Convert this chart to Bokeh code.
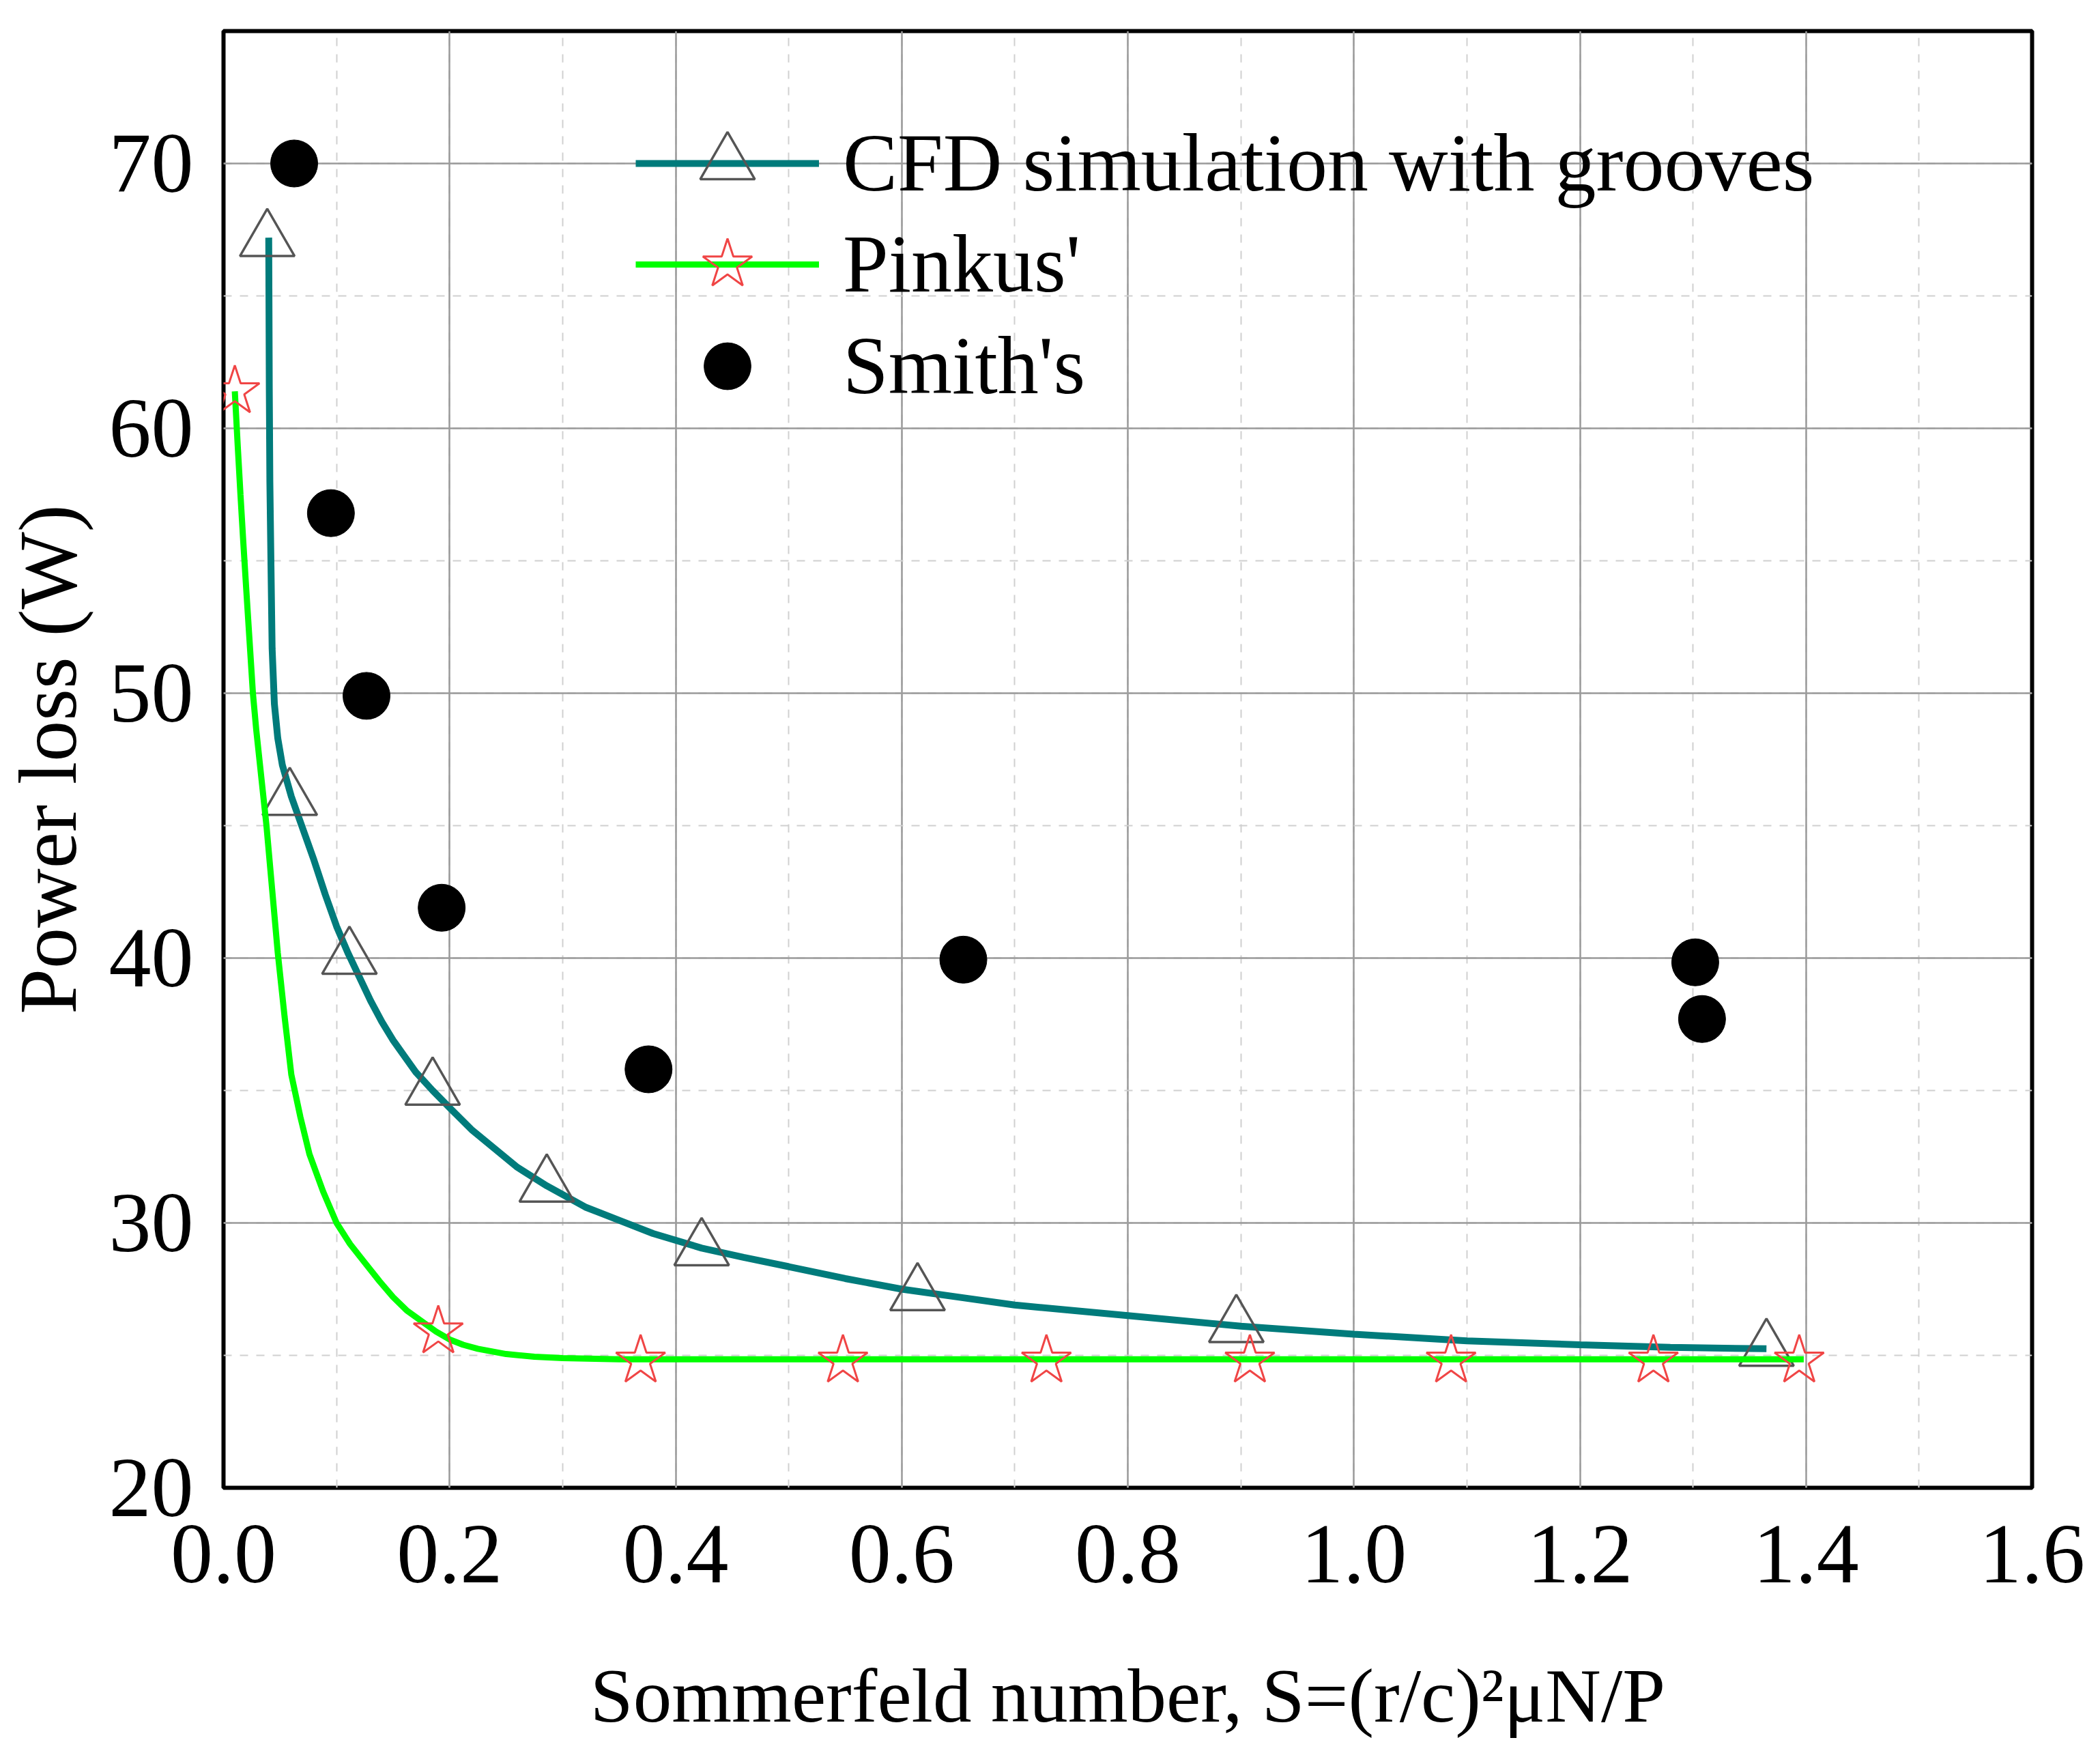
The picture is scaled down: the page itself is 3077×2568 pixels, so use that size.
import numpy as np

from bokeh.plotting import figure
from bokeh.models import Range1d, SingleIntervalTicker, PrintfTickFormatter, Legend, LegendItem
from bokeh.embed import file_html
from bokeh.resources import INLINE

# --- data ---
# CFD simulation with grooves: fitted curve + simulated points
cfd_line_x = [0.040, 0.0402, 0.0405, 0.041, 0.042, 0.043, 0.045, 0.048, 0.052, 0.056, 0.060,
              0.065, 0.070, 0.080, 0.090, 0.100, 0.110, 0.120, 0.130, 0.140, 0.150, 0.160,
              0.170, 0.185, 0.200, 0.220, 0.240, 0.260, 0.286, 0.320, 0.350, 0.380, 0.423,
              0.460, 0.500, 0.550, 0.600, 0.650, 0.700, 0.800, 0.900, 1.000, 1.100, 1.200,
              1.280, 1.365]
cfd_line_y = [67.2, 65.0, 61.5, 58.0, 54.8, 51.7, 49.6, 48.3, 47.3, 46.7, 46.1,
              45.5, 44.9, 43.7, 42.4, 41.2, 40.2, 39.3, 38.4, 37.6, 36.9, 36.3,
              35.7, 35.0, 34.35, 33.5, 32.8, 32.1, 31.4, 30.6, 30.1, 29.6, 29.05,
              28.7, 28.35, 27.9, 27.5, 27.2, 26.9, 26.5, 26.1, 25.8, 25.55, 25.4,
              25.3, 25.25]
cfd_pts_x = [0.0387, 0.0586, 0.1114, 0.185, 0.286, 0.423, 0.614, 0.896, 1.365]
cfd_pts_y = [67.1, 46.0, 40.0, 35.06, 31.4, 29.0, 27.3, 26.1, 25.2]

# Pinkus' solution
pinkus_line_x = [0.010, 0.0125, 0.015, 0.0175, 0.020, 0.023, 0.026, 0.029, 0.032, 0.035, 0.038,
                 0.043, 0.048, 0.054, 0.060, 0.068, 0.076, 0.088, 0.100, 0.112, 0.125, 0.138,
                 0.150, 0.162, 0.175, 0.188, 0.200, 0.212, 0.225, 0.250, 0.275, 0.300, 0.350,
                 0.400, 0.600, 0.800, 1.000, 1.200, 1.398]
pinkus_line_y = [61.4, 59.4, 57.5, 55.7, 54.0, 52.0, 50.0, 48.6, 47.4, 46.2, 45.0,
                 42.6, 40.2, 37.8, 35.6, 34.0, 32.6, 31.2, 30.0, 29.2, 28.5, 27.8,
                 27.2, 26.7, 26.3, 25.9, 25.6, 25.4, 25.25, 25.05, 24.95, 24.9, 24.85,
                 24.85, 24.85, 24.85, 24.85, 24.85, 24.85]
pinkus_pts_x = [0.010, 0.190, 0.369, 0.548, 0.728, 0.908, 1.086, 1.265, 1.394]
pinkus_pts_y = [61.4, 25.9, 24.8, 24.8, 24.8, 24.8, 24.8, 24.8, 24.8]

# Smith's experiments
smith_x = [0.0625, 0.095, 0.1265, 0.193, 0.376, 0.6545, 1.302, 1.308]
smith_y = [70.0, 56.8, 49.9, 41.9, 35.8, 39.94, 39.84, 37.7]

FONT = "Liberation Serif"

p = figure(frame_width=2650, frame_height=2134,
           min_border_left=320, min_border_right=90, min_border_top=45, min_border_bottom=370,
           x_range=Range1d(0, 1.6), y_range=Range1d(20, 75),
           output_backend="svg", toolbar_location=None)

p.outline_line_color = "black"
p.outline_line_width = 6

p.xaxis.ticker = SingleIntervalTicker(interval=0.2, num_minor_ticks=2)
p.yaxis.ticker = SingleIntervalTicker(interval=10, num_minor_ticks=2)
p.xaxis.formatter = PrintfTickFormatter(format="%.1f")

p.xgrid.ticker = p.xaxis.ticker
p.ygrid.ticker = p.yaxis.ticker
p.grid.grid_line_color = "#9a9a9a"
p.grid.grid_line_width = 2.5
p.grid.minor_grid_line_color = "#d0d0d0"
p.grid.minor_grid_line_width = 2
p.grid.minor_grid_line_dash = "12 12"

p.axis.axis_line_color = None
p.axis.major_tick_line_color = None
p.axis.minor_tick_line_color = None
p.axis.major_tick_out = 0
p.axis.major_tick_in = 0
p.axis.major_label_text_font = FONT
p.axis.major_label_text_font_size = "124px"
p.axis.major_label_text_color = "black"
p.axis.axis_label_text_font = FONT
p.axis.axis_label_text_font_style = "normal"
p.axis.axis_label_text_color = "black"
p.xaxis.axis_label_text_font_size = "113px"
p.yaxis.axis_label_text_font_size = "120px"
p.xaxis.major_label_standoff = 52
p.yaxis.major_label_standoff = 40
p.xaxis.axis_label_standoff = 100
p.yaxis.axis_label_standoff = 20

p.xaxis.axis_label = "Sommerfeld number, S=(r/c)\u00b2\u03bcN/P"
p.yaxis.axis_label = "Power loss (W)"

cfd_line = p.line(cfd_line_x, cfd_line_y, line_color="#007b7b", line_width=10)
cfd_pts = p.scatter(cfd_pts_x, cfd_pts_y, marker="triangle", size=80,
                    fill_color=None, line_color="#555555", line_width=3.5)

pin_line = p.line(pinkus_line_x, pinkus_line_y, line_color="#00ff00", line_width=9)
pin_pts = p.scatter(pinkus_pts_x, pinkus_pts_y, marker="star", size=76,
                    fill_color=None, line_color="#f04545", line_width=3)

smith = p.scatter(smith_x, smith_y, marker="circle", size=69,
                  fill_color="black", line_color="black")

# legend markers are drawn at 0.4 * glyph box height, so each entry gets its
# own legend with a box tall enough to keep the plot's marker size
entries = [
    ("CFD simulation with grooves", [cfd_line, cfd_pts], 200, 1840),
    ("Pinkus'", [pin_line, pin_pts], 190, 1697),
    ("Smith's", [smith], 172, 1557),
]
for label, rends, box_h, bottom in entries:
    leg = Legend(items=[LegendItem(label=label, renderers=rends)], location=(604, bottom))
    leg.background_fill_alpha = 0
    leg.border_line_color = None
    leg.padding = 0
    leg.margin = 0
    leg.spacing = 0
    leg.glyph_width = 269
    leg.glyph_height = box_h
    leg.label_height = 120
    leg.label_standoff = 35
    leg.label_text_font = FONT
    leg.label_text_font_size = "120px"
    leg.label_text_color = "black"
    p.add_layout(leg, "center")

open("out.html", "w").write(file_html(p, INLINE))
